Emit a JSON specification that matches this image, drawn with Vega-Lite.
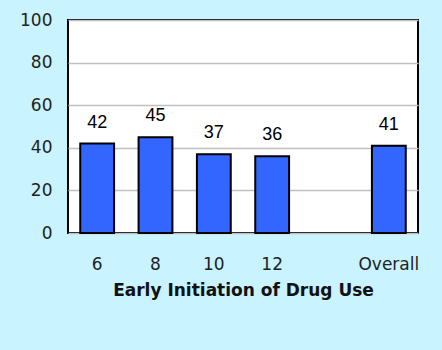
{
  "$schema": "https://vega.github.io/schema/vega-lite/v6.json",
  "width": 350,
  "height": 213,
  "autosize": {"type": "none"},
  "padding": {"left": 68, "top": 20, "right": 24, "bottom": 117},
  "background": "#C8F3FF",
  "config": {
    "view": {"fill": "white", "stroke": "black", "strokeWidth": 2}
  },
  "data": {
    "values": [
      {"age": "6", "pct": 42},
      {"age": "8", "pct": 45},
      {"age": "10", "pct": 37},
      {"age": "12", "pct": 36},
      {"age": "Overall", "pct": 41}
    ]
  },
  "encoding": {
    "x": {
      "field": "age",
      "type": "nominal",
      "sort": null,
      "scale": {"domain": ["6", "8", "10", "12", " ", "Overall"], "paddingInner": 0.42, "paddingOuter": 0.21},
      "axis": {
        "title": "Early Initiation of Drug Use",
        "titleFont": "DejaVu Sans",
        "titleFontSize": 17,
        "titleFontWeight": "bold",
        "titleColor": "#111",
        "titlePadding": 10,
        "labelFont": "DejaVu Sans",
        "labelFontSize": 17,
        "labelColor": "#222",
        "labelAngle": 0,
        "labelPadding": 23,
        "domain": false,
        "ticks": false
      }
    },
    "y": {
      "field": "pct",
      "type": "quantitative",
      "scale": {"domain": [0, 100]},
      "axis": {
        "title": null,
        "values": [0, 20, 40, 60, 80, 100],
        "labelFont": "DejaVu Sans",
        "labelFontSize": 17,
        "labelColor": "#222",
        "labelPadding": 16,
        "domain": false,
        "ticks": false,
        "grid": true,
        "gridColor": "#c0c0c0",
        "gridWidth": 1.5
      }
    }
  },
  "layer": [
    {
      "mark": {"type": "bar", "fill": "#3366FF", "stroke": "black", "strokeWidth": 2}
    },
    {
      "mark": {"type": "text", "font": "Liberation Sans", "fontSize": 18, "baseline": "alphabetic", "dy": -16, "color": "black"},
      "encoding": {"text": {"field": "pct", "type": "quantitative"}}
    }
  ]
}
